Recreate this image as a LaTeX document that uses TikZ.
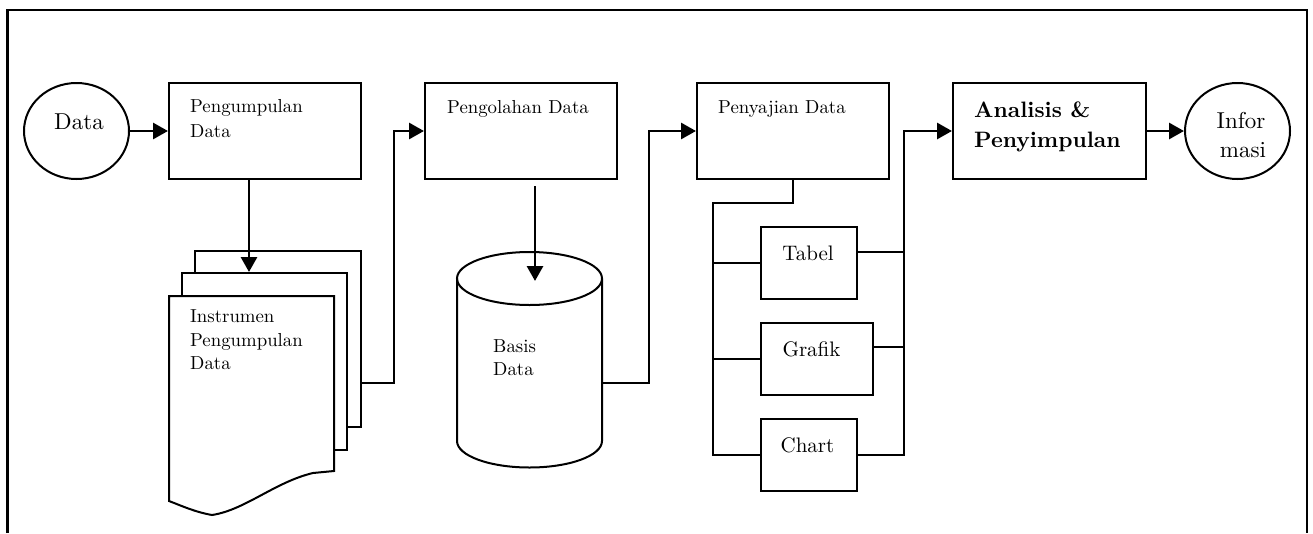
\documentclass[tikz,border=0pt]{standalone}
\usepackage{fontspec}
\setmainfont{lmroman10-regular.otf}[BoldFont=lmroman10-bold.otf]
\usetikzlibrary{arrows.meta,shapes.geometric}
\begin{document}
\begin{tikzpicture}[x=1pt,y=-1pt,
  bx/.style={draw, line width=2pt, fill=white, rectangle, inner sep=0pt},
  conn/.style={line width=2.9pt},
  thin/.style={line width=2pt},
  arr/.style={conn, -{Triangle[length=15pt,width=16pt]}},
  circ/.style={draw, ellipse, line width=2pt, minimum width=105pt, minimum height=96pt, inner sep=0pt},
  lbl/.style={anchor=base west, inner sep=0pt, font=\fontsize{18.8}{22}\selectfont},
  blbl/.style={anchor=base west, inner sep=0pt, font=\fontsize{22.3}{26}\selectfont\bfseries},
  clbl/.style={anchor=base, inner sep=0pt, font=\fontsize{23}{26}\selectfont},
  sml/.style={anchor=base, inner sep=0pt, font=\fontsize{21}{25}\selectfont},
  doc/.style={draw, line width=2pt, fill=white},
]
\useasboundingbox (0,0) rectangle (1313,533);
% frame
\draw[line width=2.2pt] (7.5,533) -- (7.5,10) -- (1307,10) -- (1307,533);

% top row
\node[circ] (data) at (76.5,131) {};
\node[clbl] (tdata) at (79,129) {Data};
\node[bx, minimum width=192pt, minimum height=96pt] (peng) at (265,131) {};
\node[lbl] (tpeng1) at (190,112) {Pengumpulan};
\node[lbl] (tpeng2) at (190,137) {Data};
\node[bx, minimum width=192pt, minimum height=96pt] (pengol) at (521,131) {};
\node[lbl] (tpengol) at (447,113) {Pengolahan Data};
\node[bx, minimum width=192pt, minimum height=96pt] (peny) at (793,131) {};
\node[lbl] (tpeny) at (718,113) {Penyajian Data};
\node[bx, minimum width=193pt, minimum height=96pt] (anal) at (1049.5,131) {};
\node[blbl] (tanal1) at (974,117) {Analisis \&};
\node[blbl] (tanal2) at (974,147) {Penyimpulan};
\node[circ] (info) at (1237.5,131) {};
\node[clbl] (tinfo1) at (1241,128) {Infor};
\node[clbl] (tinfo2) at (1243,157) {masi};

% documents
\node[bx, minimum width=166pt, minimum height=176pt] (docback) at (278,339) {};
\node[bx, minimum width=165pt, minimum height=177pt] (docmid) at (264.5,361.5) {};
\draw[doc] (169,296) -- (334,296) -- (334,471) -- (313,473)
  .. controls (275,482) and (245,510) .. (212,515)
  .. controls (195,512) and (182,506) .. (169,501) -- cycle;
\node[lbl] (tins1) at (190,322) {Instrumen};
\node[lbl] (tins2) at (190,346) {Pengumpulan};
\node[lbl] (tins3) at (190,369) {Data};

% database cylinder
\draw[doc] (457,278.5) -- (457,441) arc[start angle=180, end angle=360, x radius=72.5pt, y radius=26.5pt] -- (602,278.5);
\draw[line width=2pt] (529.5,278.5) ellipse [x radius=72.5pt, y radius=26.5pt];
\coordinate (dbin) at (535,281);
\coordinate (dbout) at (602,383);
\node[lbl] (tbas1) at (493,352) {Basis};
\node[lbl] (tbas2) at (493,375) {Data};

% presentation boxes
\node[bx, minimum width=96pt, minimum height=72pt] (tabel) at (809,263) {};
\node[sml] (ttabel) at (808,260) {Tabel};
\node[bx, minimum width=112pt, minimum height=72pt] (grafik) at (817,359) {};
\node[sml] (tgrafik) at (811.5,356) {Grafik};
\node[bx, minimum width=96pt, minimum height=72pt] (chart) at (809,455) {};
\node[sml] (tchart) at (807.5,452) {Chart};
\coordinate (busL) at (713,203);
\coordinate (busR) at (904,455);

% connectors
\draw[arr] (data.east) -- (peng.west);
\draw[arr] ([xshift=-16pt]peng.south) -- ([xshift=-15.5pt]docmid.north);
\draw[arr] ([yshift=-44pt]docback.east) -- ++(32,0) |- (pengol.west);
\draw[arr] ([xshift=14pt,yshift=-6pt]pengol.south) -- (dbin);
\draw[arr] (dbout) -- ++(47,0) |- (peny.west);
\draw[thin] (peny.south) |- (busL) -- (busL |- chart.west) -- (chart.west);
\draw[thin] (tabel.west) -- (tabel.west -| busL);
\draw[thin] (grafik.west) -- (grafik.west -| busL);
\draw[arr] (chart.east) -- (busR) |- (anal.west);
\draw[thin] ([yshift=11pt]tabel.east) -- ([yshift=11pt]tabel.east -| busR);
\draw[thin] ([yshift=12pt]grafik.east) -- ([yshift=12pt]grafik.east -| busR);
\draw[arr] (anal.east) -- (info.west);
\end{tikzpicture}
\end{document}
